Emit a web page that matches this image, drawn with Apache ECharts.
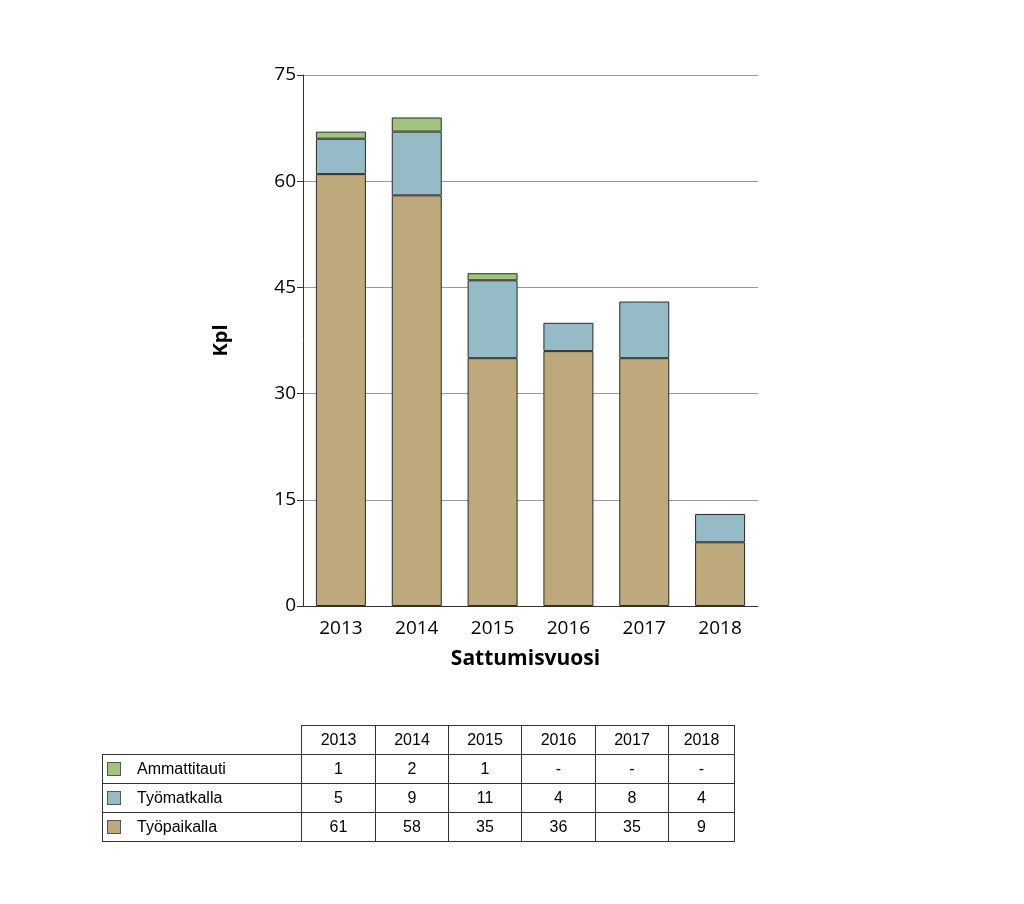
<!DOCTYPE html>
<html><head><meta charset="utf-8">
<script src="https://cdn.jsdelivr.net/npm/echarts@6/dist/echarts.min.js"></script>
<style>
html,body{margin:0;padding:0;background:#fff;}
#chart{position:absolute;left:0;top:0;width:1024px;height:904px;}
#tbl{position:absolute;left:102px;top:725px;border-collapse:collapse;table-layout:fixed;font-family:"Liberation Sans",Arial,sans-serif;font-size:16px;color:#000;}
#tbl td{border:1px solid #333;height:28px;padding:0;text-align:center;}
#tbl td.lab{text-align:left;padding:0;}
#tbl td.empty{border:none;border-bottom:1px solid #333;border-right:1px solid #333;}
.sw{display:inline-block;width:14px;height:14px;border:1px solid #555;vertical-align:middle;margin:-2px 16px 0 4px;box-sizing:border-box;}
</style>
</head><body>
<div id="chart"></div>
<table id="tbl"><colgroup><col style="width:199px"><col style="width:74px"><col style="width:73px"><col style="width:73px"><col style="width:74px"><col style="width:73px"><col style="width:66px"></colgroup><tbody id="tb"></tbody></table>
<script>
const years = ['2013','2014','2015','2016','2017','2018'];
const tyopaikalla = [61, 58, 35, 36, 35, 9];
const tyomatkalla = [5, 9, 11, 4, 8, 4];
const ammattitauti = [1, 2, 1, 0, 0, 0];
const yTicks = [0, 15, 30, 45, 60, 75];
const seriesNames = ['Ammattitauti', 'Työmatkalla', 'Työpaikalla'];
const colors = {'Ammattitauti':'#a0c47e','Työmatkalla':'#95bbc7','Työpaikalla':'#bda97b'};

const chart = echarts.init(document.getElementById('chart'), null, {renderer:'canvas'});
const font = '"Open Sans", sans-serif';
function mk(name, data){
  return {name:name, type:'bar', stack:'a', barWidth:50, data:data.map(v=>v===0?null:v),
    itemStyle:{color:colors[name], borderColor:'#2a2a2a', borderWidth:1}};
}
chart.setOption({
  animation:false,
  grid:{left:303, right:266, top:75, bottom:298},
  xAxis:{type:'category', data:years,
    axisLine:{lineStyle:{color:'#333'}}, axisTick:{show:false},
    axisLabel:{fontFamily:font, fontSize:19, color:'#000', margin:13},
    name:'Sattumisvuosi', nameLocation:'middle', nameGap:43,
    nameTextStyle:{fontFamily:font, fontSize:21, fontWeight:'bold', color:'#000', padding:[0,10,0,0]}},
  yAxis:{type:'value', min:yTicks[0], max:yTicks[yTicks.length-1], interval:yTicks[1]-yTicks[0],
    axisLine:{show:true, lineStyle:{color:'#333'}},
    axisTick:{show:true, length:6, lineStyle:{color:'#333'}},
    axisLabel:{fontFamily:font, fontSize:19, color:'#000', margin:7},
    splitLine:{lineStyle:{color:'#999'}},
    name:'Kpl', nameLocation:'middle', nameGap:72,
    nameTextStyle:{fontFamily:font, fontSize:20, fontWeight:'bold', color:'#000'}},
  series:[mk('Työpaikalla', tyopaikalla), mk('Työmatkalla', tyomatkalla), mk('Ammattitauti', ammattitauti)]
});

const tb = document.getElementById('tb');
let html = '<tr><td class="empty lab"></td>' + years.map(y=>'<td>'+y+'</td>').join('') + '</tr>';
const rows = {'Ammattitauti':ammattitauti,'Työmatkalla':tyomatkalla,'Työpaikalla':tyopaikalla};
seriesNames.forEach(n=>{
  html += '<tr><td class="lab"><span class="sw" style="background:'+colors[n]+'"></span>'+n+'</td>' +
    rows[n].map(v=>'<td>'+(v===0?'-':v)+'</td>').join('') + '</tr>';
});
tb.innerHTML = html;
</script>
</body></html>
